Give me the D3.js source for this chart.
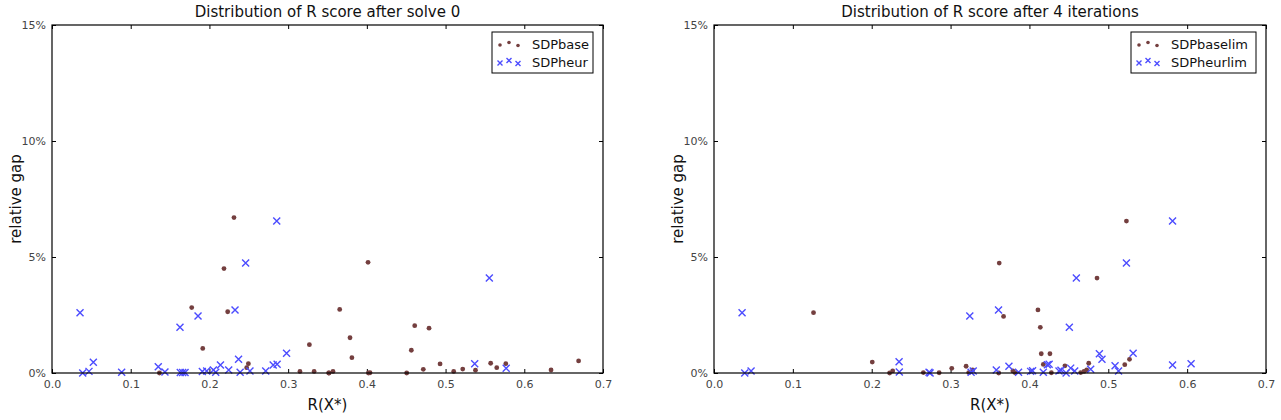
<!DOCTYPE html>
<html>
<head>
<meta charset="utf-8">
<script src="https://cdn.jsdelivr.net/npm/d3@7"></script>
<style>
  body { margin: 0; background: #fff; }
  text { font-family: "DejaVu Sans", sans-serif; }
</style>
</head>
<body>
<svg id="chart" width="1281" height="420"></svg>
<script>
// chart values
const titles = ["Distribution of R score after solve 0", "Distribution of R score after 4 iterations"];
const seriesNames = [["SDPbase", "SDPheur"], ["SDPbaselim", "SDPheurlim"]];
const xTicks = [0, 0.1, 0.2, 0.3, 0.4, 0.5, 0.6, 0.7];
const yTicks = [0, 5, 10, 15];

// [R(X*), relative gap %]
const solve0Base = [
  [0.2312, 6.7], [0.2185, 4.5], [0.1775, 2.82], [0.2232, 2.64], [0.1915, 1.06],
  [0.327, 1.22], [0.2495, 0.4], [0.2473, 0.23], [0.1365, 0], [0.315, 0.07],
  [0.333, 0.07], [0.3515, 0], [0.352, 0], [0.357, 0.07], [0.4015, 4.77],
  [0.3655, 2.74], [0.3786, 1.52], [0.381, 0.66], [0.4608, 2.04], [0.479, 1.93],
  [0.4565, 0.98], [0.493, 0.39], [0.4717, 0.16], [0.5103, 0.07], [0.5218, 0.17],
  [0.538, 0.12], [0.5573, 0.42], [0.565, 0.23], [0.5765, 0.4], [0.634, 0.13],
  [0.669, 0.52], [0.404, 0.01], [0.402, 0], [0.4506, 0]
];
const solve0Heur = [
  [0.0356, 2.6], [0.2855, 6.55], [0.246, 4.74], [0.2325, 2.72], [0.1855, 2.46],
  [0.1626, 1.97], [0.0525, 0.46], [0.047, 0.07], [0.039, 0], [0.0885, 0.03],
  [0.135, 0.27], [0.1435, 0.04], [0.163, 0.02], [0.166, 0.02], [0.169, 0.02],
  [0.191, 0.06], [0.1965, 0.09], [0.205, 0.13], [0.208, 0.03], [0.214, 0.34],
  [0.2245, 0.13], [0.237, 0.59], [0.239, 0.03], [0.2515, 0.09], [0.2715, 0.09],
  [0.281, 0.34], [0.286, 0.38], [0.298, 0.85], [0.5556, 4.09], [0.537, 0.4],
  [0.577, 0.2]
];
const iter4Base = [
  [0.1262, 2.6], [0.2007, 0.47], [0.2266, 0.09], [0.2227, 0], [0.2655, 0.02],
  [0.2855, 0.01], [0.3015, 0.2], [0.3197, 0.29], [0.323, 0.02], [0.328, 0.13],
  [0.523, 6.55], [0.3617, 4.74], [0.4857, 4.09], [0.3672, 2.44], [0.4108, 2.72],
  [0.4138, 1.97], [0.415, 0.83], [0.426, 0.83], [0.4176, 0.37], [0.445, 0.31],
  [0.4752, 0.42], [0.5209, 0.36], [0.5269, 0.59], [0.379, 0.09], [0.3815, 0.02],
  [0.361, 0], [0.4278, 0.01], [0.465, 0.02], [0.4692, 0.07], [0.4726, 0.13]
];
const iter4Heur = [
  [0.0356, 2.6], [0.047, 0.09], [0.039, 0], [0.2347, 0.49], [0.235, 0.04],
  [0.2727, 0.03], [0.274, 0], [0.3244, 2.46], [0.326, 0.03], [0.3287, 0.09],
  [0.5815, 6.55], [0.523, 4.74], [0.4595, 4.09], [0.3608, 2.72], [0.4506, 1.97],
  [0.4887, 0.83], [0.492, 0.59], [0.5315, 0.85], [0.5815, 0.34], [0.605, 0.4],
  [0.5086, 0.31], [0.513, 0.09], [0.374, 0.29], [0.358, 0.13], [0.3862, 0.03],
  [0.4015, 0.07], [0.404, 0.1], [0.4176, 0.03], [0.4227, 0.36], [0.425, 0.38],
  [0.4375, 0.09], [0.44, 0.12], [0.4465, 0], [0.4523, 0.21], [0.4574, 0.09],
  [0.4777, 0.16]
];

const panels = [
  { title: titles[0], names: seriesNames[0], base: solve0Base, heur: solve0Heur, left: 52, right: 603 },
  { title: titles[1], names: seriesNames[1], base: iter4Base, heur: iter4Heur, left: 714, right: 1266 }
];

const plotTop = 25, plotBottom = 373;
const dotColor = "#743f3f";
const crossColor = "#4c4cff";
const svg = d3.select("#chart");

const drawCross = (sel, s) =>
  sel.attr("d", `M${-s},${-s}L${s},${s}M${-s},${s}L${s},${-s}`)
    .attr("fill", "none")
    .attr("stroke", crossColor)
    .attr("stroke-width", 1.4);

panels.forEach(p => {
  const x = d3.scaleLinear().domain([0, 0.7]).range([p.left, p.right]);
  const y = d3.scaleLinear().domain([0, 15]).range([plotBottom, plotTop]);
  const g = svg.append("g");

  // ticks point inward on all four sides
  const tickLen = 4;
  g.append("g")
    .attr("transform", `translate(0,${plotBottom})`)
    .call(d3.axisBottom(x).tickValues(xTicks).tickFormat(d3.format(".1f")).tickSizeInner(-tickLen).tickSizeOuter(0).tickPadding(7))
    .call(a => a.select(".domain").remove());
  g.append("g")
    .attr("transform", `translate(0,${plotTop})`)
    .call(d3.axisTop(x).tickValues(xTicks).tickFormat("").tickSizeInner(-tickLen).tickSizeOuter(0))
    .call(a => a.select(".domain").remove());
  g.append("g")
    .attr("transform", `translate(${p.left},0)`)
    .call(d3.axisLeft(y).tickValues(yTicks).tickFormat(d => d + "%").tickSizeInner(-tickLen).tickSizeOuter(0).tickPadding(6))
    .call(a => a.select(".domain").remove());
  g.append("g")
    .attr("transform", `translate(${p.right},0)`)
    .call(d3.axisRight(y).tickValues(yTicks).tickFormat("").tickSizeInner(-tickLen).tickSizeOuter(0))
    .call(a => a.select(".domain").remove());

  g.selectAll(".tick text").attr("font-size", 11).attr("fill", "#444");
  g.selectAll(".tick line").attr("stroke", "#000");

  // points
  g.append("g")
    .selectAll("circle")
    .data(p.base)
    .join("circle")
    .attr("cx", d => x(d[0]))
    .attr("cy", d => y(d[1]))
    .attr("r", 2.4)
    .attr("fill", dotColor);

  g.append("g")
    .selectAll("path")
    .data(p.heur)
    .join("path")
    .attr("transform", d => `translate(${x(d[0])},${y(d[1])})`)
    .call(drawCross, 3.5);

  // frame
  g.append("rect")
    .attr("x", p.left)
    .attr("y", plotTop)
    .attr("width", p.right - p.left)
    .attr("height", plotBottom - plotTop)
    .attr("fill", "none")
    .attr("stroke", "#000")
    .attr("stroke-width", 1.2);

  g.append("text")
    .attr("x", (p.left + p.right) / 2)
    .attr("y", plotTop - 8)
    .attr("text-anchor", "middle")
    .attr("font-size", 15)
    .attr("fill", "#111")
    .text(p.title);

  g.append("text")
    .attr("x", (p.left + p.right) / 2)
    .attr("y", 410)
    .attr("text-anchor", "middle")
    .attr("font-size", 15)
    .attr("fill", "#111")
    .text("R(X*)");

  g.append("text")
    .attr("transform", `translate(${p.left - 31},${(plotTop + plotBottom) / 2}) rotate(-90)`)
    .attr("text-anchor", "middle")
    .attr("font-size", 15)
    .attr("fill", "#111")
    .text("relative gap");

  // legend
  const legendW = p.names[0].length > 8 ? 125 : 101;
  const lx = p.right - 10 - legendW, ly = plotTop + 7;
  const lg = g.append("g").attr("transform", `translate(${lx},${ly})`);
  lg.append("rect")
    .attr("width", legendW)
    .attr("height", 41)
    .attr("fill", "#fff")
    .attr("stroke", "#000")
    .attr("stroke-width", 1);
  const offsets = [1, -1.5, 1.5];
  offsets.forEach((o, i) => {
    lg.append("circle")
      .attr("cx", 8 + i * 9)
      .attr("cy", 12 + o)
      .attr("r", 1.8)
      .attr("fill", dotColor);
    lg.append("path")
      .attr("transform", `translate(${8 + i * 9},${30 + o})`)
      .call(drawCross, 2.5);
  });
  lg.selectAll("text.item")
    .data(p.names)
    .join("text")
    .attr("class", "item")
    .attr("x", 40)
    .attr("y", (d, i) => 12 + i * 18)
    .attr("dy", "0.35em")
    .attr("font-size", 13)
    .attr("fill", "#111")
    .text(d => d);
});
</script>
</body>
</html>
